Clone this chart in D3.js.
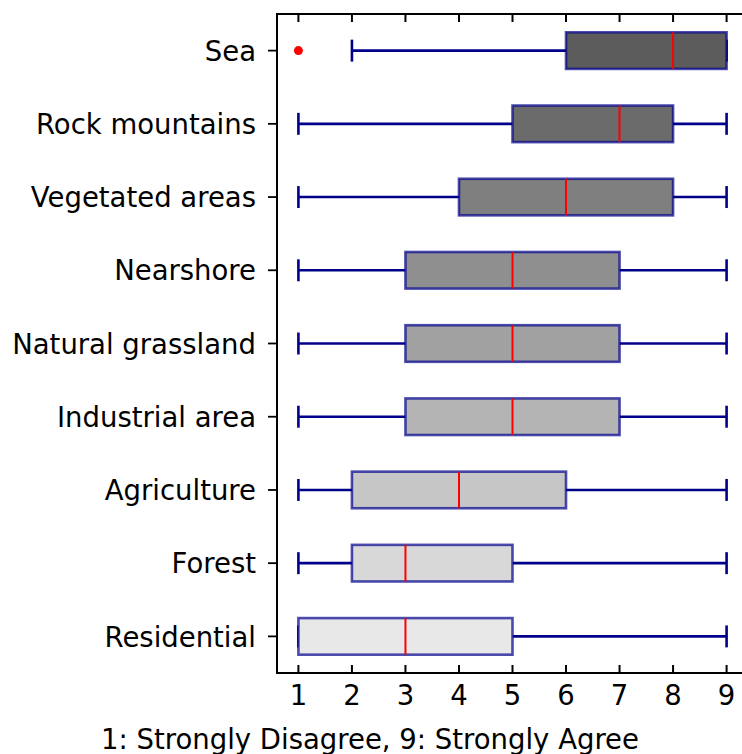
<!DOCTYPE html>
<html>
<head>
<meta charset="utf-8">
<script src="https://cdn.jsdelivr.net/npm/d3@7"></script>
<style>
  body { margin: 0; background: #fff; }
  text { font-family: "DejaVu Sans", sans-serif; }
</style>
</head>
<body>
<script>
// categories, top to bottom
var categories = ["Sea", "Rock mountains", "Vegetated areas", "Nearshore", "Natural grassland",
                  "Industrial area", "Agriculture", "Forest", "Residential"];
var whiskerLow  = [2, 1, 1, 1, 1, 1, 1, 1, 1];
var q1          = [6, 5, 4, 3, 3, 3, 2, 2, 1];
var median      = [8, 7, 6, 5, 5, 5, 4, 3, 3];
var q3          = [9, 8, 8, 7, 7, 7, 6, 5, 5];
var whiskerHigh = [9, 9, 9, 9, 9, 9, 9, 9, 9];
var outliers    = [[1], [], [], [], [], [], [], [], []];
var fills = ["#5c5c5c", "#6b6b6b", "#7f7f7f", "#8f8f8f", "#a1a1a1",
             "#b4b4b4", "#c6c6c6", "#d8d8d8", "#e8e8e8"];
var xTicks = [1, 2, 3, 4, 5, 6, 7, 8, 9];
var xLabel = "1: Strongly Disagree, 9: Strongly Agree";

var width = 742, height = 754;
var mLeft = 277, mTop = 14, mRight = 748, mBottom = 673;
var fontSize = "27.5px";

var svg = d3.select("body").append("svg").attr("width", width).attr("height", height);

var x = d3.scaleLinear().domain([0.6, 9.4]).range([mLeft, mRight]);
// position 1 at the bottom (Residential), 9 at top (Sea)
var y = d3.scaleLinear().domain([0.5, 9.5]).range([mBottom, mTop]);
var pos = function (i) { return y(categories.length - i); };

var boxH = y(0) - y(0.5);
var capH = y(0) - y(0.3);

var g = svg.append("g");

categories.forEach(function (c, i) {
    var cy = pos(i);
    var row = g.append("g");

    // whiskers
    row.append("line")
        .attr("x1", x(whiskerLow[i])).attr("x2", x(q1[i]))
        .attr("y1", cy).attr("y2", cy)
        .attr("stroke", "#00008b").attr("stroke-width", 2.6);
    row.append("line")
        .attr("x1", x(q3[i])).attr("x2", x(whiskerHigh[i]))
        .attr("y1", cy).attr("y2", cy)
        .attr("stroke", "#00008b").attr("stroke-width", 2.6);

    // caps
    [whiskerLow[i], whiskerHigh[i]].forEach(function (v) {
        row.append("line")
            .attr("x1", x(v)).attr("x2", x(v))
            .attr("y1", cy - capH / 2).attr("y2", cy + capH / 2)
            .attr("stroke", "#00008b").attr("stroke-width", 2.6);
    });

    // box
    row.append("rect")
        .attr("x", x(q1[i])).attr("width", x(q3[i]) - x(q1[i]))
        .attr("y", cy - boxH / 2).attr("height", boxH)
        .attr("fill", fills[i])
        .attr("stroke", "#00008b").attr("stroke-opacity", 0.7).attr("stroke-width", 2.6);

    // median
    row.append("line")
        .attr("x1", x(median[i])).attr("x2", x(median[i]))
        .attr("y1", cy - boxH / 2).attr("y2", cy + boxH / 2)
        .attr("stroke", "red").attr("stroke-width", 2);

    // outliers
    outliers[i].forEach(function (v) {
        row.append("circle")
            .attr("cx", x(v)).attr("cy", cy).attr("r", 4.5)
            .attr("fill", "red");
    });
});

// spines
svg.append("line").attr("x1", mLeft).attr("x2", mLeft).attr("y1", mTop - 1).attr("y2", mBottom + 1)
    .attr("stroke", "#000").attr("stroke-width", 2);
svg.append("line").attr("x1", mLeft - 1).attr("x2", mRight).attr("y1", mBottom).attr("y2", mBottom)
    .attr("stroke", "#000").attr("stroke-width", 2);
svg.append("line").attr("x1", mLeft - 1).attr("x2", mRight).attr("y1", mTop).attr("y2", mTop)
    .attr("stroke", "#000").attr("stroke-width", 2);
svg.append("line").attr("x1", mRight).attr("x2", mRight).attr("y1", mTop).attr("y2", mBottom)
    .attr("stroke", "#000").attr("stroke-width", 2);

// x ticks, inward on bottom and top
xTicks.forEach(function (t) {
    svg.append("line").attr("x1", x(t)).attr("x2", x(t))
        .attr("y1", mBottom).attr("y2", mBottom - 8)
        .attr("stroke", "#000").attr("stroke-width", 2);
    svg.append("line").attr("x1", x(t)).attr("x2", x(t))
        .attr("y1", mTop).attr("y2", mTop + 8)
        .attr("stroke", "#000").attr("stroke-width", 2);
    svg.append("text")
        .attr("x", x(t)).attr("y", mBottom + 32)
        .attr("text-anchor", "middle")
        .style("font-size", fontSize)
        .text(t);
});

// y ticks, outward
categories.forEach(function (c, i) {
    var cy = pos(i);
    svg.append("line").attr("x1", mLeft - 9).attr("x2", mLeft)
        .attr("y1", cy).attr("y2", cy)
        .attr("stroke", "#000").attr("stroke-width", 1.8);
    svg.append("text")
        .attr("x", mLeft - 21).attr("y", cy)
        .attr("dy", "0.37em")
        .attr("text-anchor", "end")
        .style("font-size", fontSize)
        .text(c);
});

svg.append("text")
    .attr("x", 370).attr("y", 749)
    .attr("text-anchor", "middle")
    .style("font-size", fontSize)
    .text(xLabel);
</script>
</body>
</html>
